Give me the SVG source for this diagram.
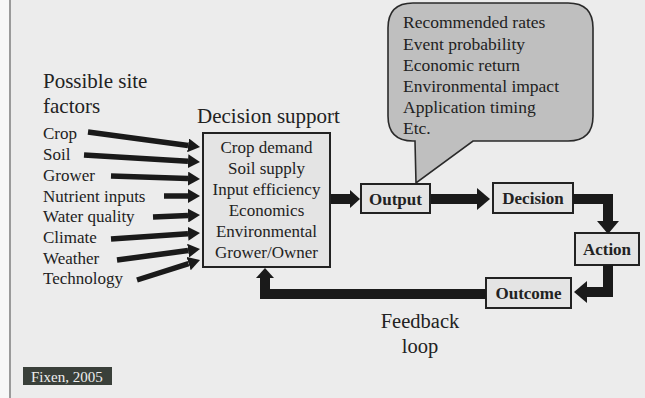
<svg xmlns="http://www.w3.org/2000/svg" width="645" height="398" viewBox="0 0 645 398">
<style>
text{font-family:"Liberation Serif","Times New Roman",serif;fill:#222;}
.lbl{font-size:17px;}
.bub{font-size:17.5px;}
.ttl{font-size:21px;}
.ds{font-size:17px;text-anchor:middle;}
.bx{font-size:17px;font-weight:bold;text-anchor:middle;}
.box{fill:#e4e4e4;stroke:#222;stroke-width:2;}
.thin{stroke:#1a1a1a;stroke-width:5.5;fill:none;}
.thick{stroke:#1a1a1a;stroke-width:10;fill:none;stroke-linejoin:miter;}
</style>
<defs>
<marker id="hs" markerUnits="userSpaceOnUse" markerWidth="12" markerHeight="14" refX="0" refY="7" orient="auto"><path d="M0,0 L12,7 L0,14 Z" fill="#1a1a1a"/></marker>
<marker id="hb" markerUnits="userSpaceOnUse" markerWidth="13" markerHeight="22" refX="0" refY="11" orient="auto"><path d="M0,0 L13,11 L0,22 Z" fill="#1a1a1a"/></marker>
<marker id="hm" markerUnits="userSpaceOnUse" markerWidth="10" markerHeight="18" refX="0" refY="9" orient="auto"><path d="M0,0 L10,9 L0,18 Z" fill="#1a1a1a"/></marker>
</defs>
<rect x="0" y="0" width="645" height="398" fill="#ececec"/>
<rect x="0" y="0" width="9" height="398" fill="#f7f7f7"/>
<line x1="10" y1="0" x2="10" y2="398" stroke="#9a9a9a" stroke-width="2"/>

<g id="site-factors">
<text class="ttl" x="43" y="88">Possible site</text>
<text class="ttl" x="43" y="113">factors</text>
<text class="lbl" x="43" y="139">Crop</text>
<text class="lbl" x="43" y="160">Soil</text>
<text class="lbl" x="43" y="181">Grower</text>
<text class="lbl" x="43" y="202">Nutrient inputs</text>
<text class="lbl" x="43" y="222">Water quality</text>
<text class="lbl" x="43" y="243">Climate</text>
<text class="lbl" x="43" y="264">Weather</text>
<text class="lbl" x="43" y="284">Technology</text>
</g>

<g id="decision-support">
<text class="ttl" x="197" y="123">Decision support</text>
<rect class="box" x="203" y="133" width="127" height="134"/>
<text class="ds" x="266.5" y="153">Crop demand</text>
<text class="ds" x="266.5" y="174">Soil supply</text>
<text class="ds" x="266.5" y="195">Input efficiency</text>
<text class="ds" x="266.5" y="216">Economics</text>
<text class="ds" x="266.5" y="237">Environmental</text>
<text class="ds" x="266.5" y="258">Grower/Owner</text>
</g>

<g id="callout">
<path d="M415,141 L416,183 L473,141 L568,141 Q593,141 593,116 L593,28 Q593,3 568,3 L413,3 Q388,3 388,28 L388,116 Q388,141 413,141 Z" fill="#bfbfbf" stroke="#2a2a2a" stroke-width="1.6"/>
<text class="bub" x="403" y="28">Recommended rates</text>
<text class="bub" x="403" y="50">Event probability</text>
<text class="bub" x="403" y="71">Economic return</text>
<text class="bub" x="403" y="92">Environmental impact</text>
<text class="bub" x="403" y="113">Application timing</text>
<text class="bub" x="403" y="134">Etc.</text>
</g>

<g id="output"><rect class="box" x="361" y="184" width="69" height="29"/><text class="bx" x="395.5" y="205">Output</text></g>
<g id="decision"><rect class="box" x="493" y="183" width="80" height="30"/><text class="bx" x="533" y="204">Decision</text></g>
<g id="action"><rect class="box" x="575" y="233" width="64" height="32"/><text class="bx" x="607" y="255">Action</text></g>
<g id="outcome"><rect class="box" x="486" y="278" width="85" height="30"/><text class="bx" x="528.5" y="299">Outcome</text></g>

<g id="feedback-label">
<text style="font-size:20.5px" text-anchor="middle" x="420" y="328">Feedback</text>
<text style="font-size:20.5px" text-anchor="middle" x="420" y="353">loop</text>
</g>

<g id="connectors">
<line class="thin" x1="88" y1="132" x2="188.1" y2="145.4" marker-end="url(#hs)"/>
<line class="thin" x1="84" y1="155" x2="188" y2="161.3" marker-end="url(#hs)"/>
<line class="thin" x1="111" y1="176" x2="188" y2="178.6" marker-end="url(#hs)"/>
<line class="thin" x1="164" y1="196" x2="188" y2="196" marker-end="url(#hs)"/>
<line class="thin" x1="153" y1="217" x2="188" y2="215.5" marker-end="url(#hs)"/>
<line class="thin" x1="111" y1="239" x2="188" y2="233.8" marker-end="url(#hs)"/>
<line class="thin" x1="117" y1="260" x2="188.1" y2="250.6" marker-end="url(#hs)"/>
<line class="thin" x1="137" y1="280" x2="188.6" y2="263.6" marker-end="url(#hs)"/>
<line class="thick" x1="331" y1="199" x2="350" y2="199" marker-end="url(#hm)"/>
<line class="thick" x1="431" y1="199" x2="477" y2="199" marker-end="url(#hb)"/>
<path class="thick" d="M573,199 H608 V221" marker-end="url(#hb)"/>
<path class="thick" d="M608,265 V292 H587" marker-end="url(#hb)"/>
<path class="thick" d="M486,294 H265 V278" marker-end="url(#hm)"/>
</g>

<g id="credit">
<rect x="23" y="367" width="89" height="18" fill="#3a403a"/>
<text x="31" y="382" style="font-size:15px;fill:#eeeeee">Fixen, 2005</text>
</g>
</svg>
